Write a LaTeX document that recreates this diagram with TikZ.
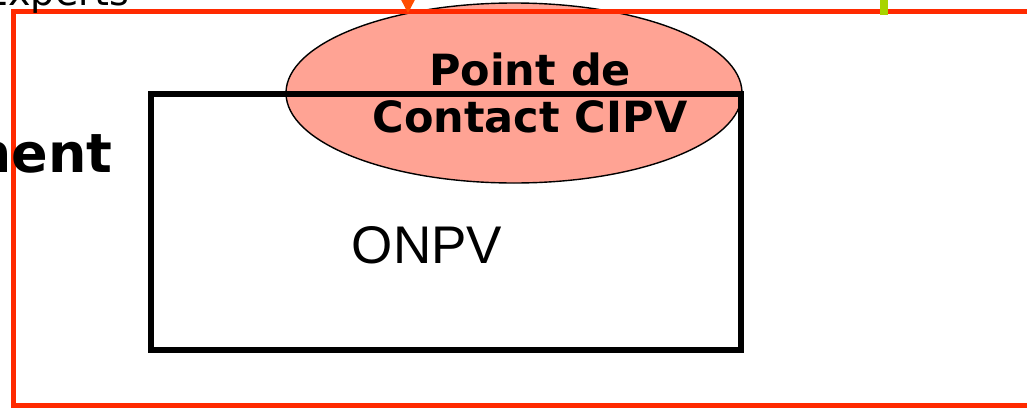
\documentclass[tikz,border=0pt]{standalone}
\usepackage{fontspec}
\setmainfont{DejaVu Sans}
\newfontfamily\arialfont{Liberation Sans}
\usetikzlibrary{shapes.geometric,arrows.meta}
\definecolor{cadrerouge}{HTML}{FF2A00}
\definecolor{saumon}{HTML}{FFA394}
\definecolor{flecheorange}{HTML}{FF4D00}
\definecolor{vertanis}{HTML}{A8D400}

\begin{document}
\begin{tikzpicture}[x=1pt, y=-1pt] %Point de contact
            \tikzstyle{cadre} = [rectangle, draw=cadrerouge, line width=5pt, minimum width=1107pt, minimum height=394pt, inner sep=0pt]
            \tikzstyle{contactellipse} = [ellipse, draw, line width=1.4pt, fill=saumon, minimum width=456pt, minimum height=180pt, inner sep=0pt]
            \tikzstyle{onpvbox} = [rectangle, draw, line width=6pt, minimum width=589.5pt, minimum height=256pt, inner sep=0pt]
            \tikzstyle{grastexte} = [font=\bfseries\fontsize{43}{47}\selectfont, inner sep=0pt, anchor=base]
            \useasboundingbox (0,0) rectangle (1027,407);
            \node[contactellipse] (cipv) at (514,93) {};
            \node[cadre] (cadre) at (566.5,208.5) {};
            \node[onpvbox] (onpv) at (445.75,221.5) {};
            \node[grastexte] (cipv1) at (530,85) {Point de};
            \node[grastexte] (cipv2) at (530,132) {Contact CIPV};
            \node[font=\arialfont\fontsize{53}{60}\selectfont, inner sep=0pt, anchor=base] (onpvtxt) at (427,263) {ONPV};
            \node[font=\bfseries\fontsize{54}{60}\selectfont, inner sep=0pt, anchor=base east] (ment) at (113,172) {ment};
            \node[font=\fontsize{38}{44}\selectfont, inner sep=0pt, anchor=base east] (experts) at (129,5) {Experts};
            \coordinate (fleche) at (408,-30);
            \coordinate (vert) at (884,-5);
            \draw[flecheorange, line width=4pt, -{Triangle[width=17pt,length=18pt]}] (fleche) -- ([yshift=-4.5pt]cadre.north -| fleche);
            \draw[vertanis, line width=8pt] (vert) -- ([yshift=-6pt]cadre.north -| vert);
        \end{tikzpicture}
\end{document}
